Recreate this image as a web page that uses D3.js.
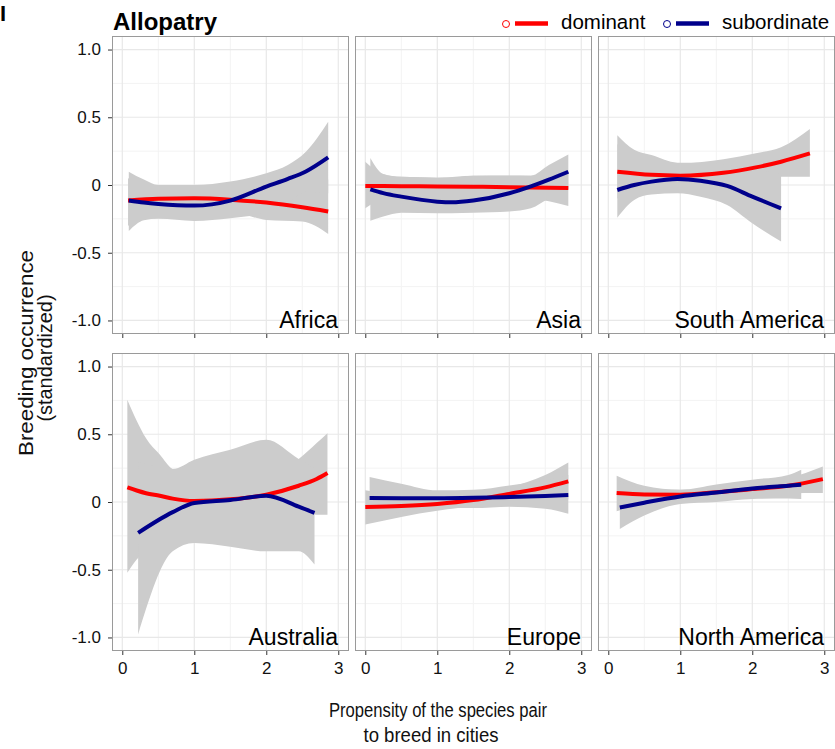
<!DOCTYPE html>
<html>
<head>
<meta charset="utf-8">
<script src="https://cdn.jsdelivr.net/npm/d3@7"></script>
<style>
  body { margin: 0; background: #fff; }
  svg { display: block; }
  text { font-family: "Liberation Sans", Arial, Helvetica, sans-serif; }
</style>
</head>
<body>
<svg id="chart" width="835" height="749"></svg>
<script>
// ---- Facets, series and axis ticks ----
const regions = ["Africa", "Asia", "South America", "Australia", "Europe", "North America"];
const seriesNames = ["dominant", "subordinate"];
const seriesColors = ["#ff0000", "#00008b"];
const xTicks = [0, 1, 2, 3];
const xMinorTicks = [0.5, 1.5, 2.5];
const yTicks = [-1, -0.5, 0, 0.5, 1];
const yMinorTicks = [-0.75, -0.25, 0.25, 0.75];
const yTickLabels = ["-1.0", "-0.5", "0", "0.5", "1.0"];

// ---- Smoothed fits with confidence bands (x, fit, lower, upper) ----
// Africa
const africaDomX   = [0.08, 0.5, 1.0, 1.5, 2.0, 2.5, 2.86];
const africaDomFit = [-0.115, -0.102, -0.098, -0.108, -0.13, -0.165, -0.196];
const africaDomLo  = [-0.30, -0.22, -0.20, -0.20, -0.258, -0.27, -0.361];
const africaDomHi  = [0.05, -0.01, -0.01, -0.01, 0.0, 0.02, 0.04];
const africaSubX   = [0.09, 0.3, 0.5, 1.0, 1.5, 2.0, 2.3, 2.55, 2.86];
const africaSubFit = [-0.115, -0.13, -0.14, -0.152, -0.115, -0.012, 0.045, 0.1, 0.204];
const africaSubLo  = [-0.339, -0.26, -0.25, -0.265, -0.246, -0.2, -0.13, -0.05, -0.06];
const africaSubHi  = [0.098, 0.04, 0.0, 0.0, 0.025, 0.086, 0.147, 0.245, 0.467];
// Asia
const asiaDomX   = [0.0, 0.25, 0.5, 1.0, 1.5, 2.0, 2.3, 2.55, 2.82];
const asiaDomFit = [-0.007, -0.008, -0.009, -0.011, -0.013, -0.016, -0.018, -0.02, -0.022];
const asiaDomLo  = [-0.172, -0.1, -0.08, -0.07, -0.07, -0.08, -0.1, -0.12, -0.155];
const asiaDomHi  = [0.172, 0.08, 0.06, 0.054, 0.069, 0.069, 0.069, 0.08, 0.1];
const asiaSubX   = [0.07, 0.25, 0.5, 1.0, 1.2, 1.5, 2.0, 2.3, 2.55, 2.82];
const asiaSubFit = [-0.032, -0.06, -0.086, -0.123, -0.128, -0.115, -0.061, -0.01, 0.04, 0.098];
const asiaSubLo  = [-0.263, -0.233, -0.204, -0.208, -0.208, -0.204, -0.196, -0.172, -0.1, -0.03];
const asiaSubHi  = [0.2, 0.081, 0.06, 0.054, 0.055, 0.069, 0.07, 0.069, 0.147, 0.226];
// South America
const samDomX   = [0.125, 0.6, 1.0, 1.6, 2.05, 2.4, 2.8];
const samDomFit = [0.098, 0.075, 0.069, 0.09, 0.13, 0.172, 0.233];
const samDomLo  = [-0.10, -0.04, -0.02, 0.0, 0.03, 0.06, 0.06];
const samDomHi  = [0.30, 0.2, 0.16, 0.19, 0.235, 0.278, 0.413];
const samSubX   = [0.125, 0.36, 0.6, 0.96, 1.28, 1.65, 2.0, 2.4];
const samSubFit = [-0.037, 0.0, 0.025, 0.044, 0.032, -0.007, -0.086, -0.172];
const samSubLo  = [-0.241, -0.11, -0.07, -0.061, -0.086, -0.147, -0.282, -0.418];
const samSubHi  = [0.368, 0.26, 0.221, 0.165, 0.165, 0.15, 0.12, 0.08];
// Australia
const ausDomX   = [0.07, 0.2, 0.33, 0.52, 0.7, 1.0, 1.5, 2.0, 2.45, 2.7, 2.85];
const ausDomFit = [0.108, 0.085, 0.065, 0.046, 0.025, 0.008, 0.02, 0.054, 0.12, 0.17, 0.214];
const ausDomLo  = [-0.523, -0.425, -0.36, -0.27, -0.2, -0.15, -0.14, -0.1, -0.08, -0.094, -0.094];
const ausDomHi  = [0.754, 0.6, 0.47, 0.35, 0.243, 0.2, 0.18, 0.2, 0.317, 0.435, 0.508];
const ausSubX   = [0.22, 0.7, 1.0, 1.5, 2.0, 2.45, 2.67];
const ausSubFit = [-0.228, -0.075, -0.007, 0.015, 0.046, -0.035, -0.081];
const ausSubLo  = [-0.978, -0.364, -0.302, -0.33, -0.364, -0.364, -0.462];
const ausSubHi  = [0.3, 0.243, 0.312, 0.385, 0.459, 0.317, 0.25];
// Europe
const eurDomX   = [0.0, 0.5, 1.0, 1.5, 2.0, 2.5, 2.82];
const eurDomFit = [-0.037, -0.03, -0.015, 0.014, 0.06, 0.108, 0.152];
const eurDomLo  = [-0.167, -0.11, -0.065, -0.03, 0.0, 0.03, 0.02];
const eurDomHi  = [0.086, 0.05, 0.04, 0.06, 0.11, 0.2, 0.292];
const eurSubX   = [0.06, 0.5, 1.0, 1.5, 2.0, 2.5, 2.82];
const eurSubFit = [0.029, 0.028, 0.028, 0.031, 0.037, 0.045, 0.052];
const eurSubLo  = [-0.14, -0.07, -0.045, -0.045, -0.035, -0.05, -0.086];
const eurSubHi  = [0.184, 0.135, 0.086, 0.09, 0.122, 0.16, 0.2];
// North America
const namDomX   = [0.116, 0.5, 1.0, 1.5, 2.0, 2.5, 2.98];
const namDomFit = [0.066, 0.056, 0.054, 0.072, 0.095, 0.12, 0.169];
const namDomLo  = [-0.069, -0.01, 0.015, 0.035, 0.055, 0.065, 0.066];
const namDomHi  = [0.194, 0.12, 0.09, 0.11, 0.135, 0.175, 0.262];
const namSubX   = [0.16, 0.5, 1.0, 1.5, 2.0, 2.5, 2.68];
const namSubFit = [-0.04, -0.005, 0.041, 0.07, 0.1, 0.12, 0.127];
const namSubLo  = [-0.199, -0.1, -0.015, 0.0, 0.022, 0.025, 0.022];
const namSubHi  = [0.15, 0.1, 0.091, 0.13, 0.165, 0.2, 0.238];

// Rows of points per facet and series, built from the arrays above
function rows(xs, fit, lo, hi) {
  return xs.map((x, i) => ({ x, fit: fit[i], lo: lo[i], hi: hi[i] }));
}
const facetSeries = {
  "Africa":        [rows(africaDomX, africaDomFit, africaDomLo, africaDomHi), rows(africaSubX, africaSubFit, africaSubLo, africaSubHi)],
  "Asia":          [rows(asiaDomX, asiaDomFit, asiaDomLo, asiaDomHi),         rows(asiaSubX, asiaSubFit, asiaSubLo, asiaSubHi)],
  "South America": [rows(samDomX, samDomFit, samDomLo, samDomHi),             rows(samSubX, samSubFit, samSubLo, samSubHi)],
  "Australia":     [rows(ausDomX, ausDomFit, ausDomLo, ausDomHi),             rows(ausSubX, ausSubFit, ausSubLo, ausSubHi)],
  "Europe":        [rows(eurDomX, eurDomFit, eurDomLo, eurDomHi),             rows(eurSubX, eurSubFit, eurSubLo, eurSubHi)],
  "North America": [rows(namDomX, namDomFit, namDomLo, namDomHi),             rows(namSubX, namSubFit, namSubLo, namSubHi)]
};

// ---- Layout ----
const svg = d3.select("#chart");
const panelW = 237, panelH = 298;
const left0 = 112, top0 = 36, gapX = 6, gapY = 19;
const nCols = 3;

const x = d3.scaleLinear().domain([-0.143, 3.149]).range([0, panelW]);
const y = d3.scaleLinear().domain([-1.1, 1.1]).range([panelH, 0]);

const ribbonFill = "#cccccc";
const gridMajor = "#e8e8e8";
const gridMinor = "#f3f3f3";
const borderCol = "#9a9a9a";
const textCol = "#111111";

const area = d3.area().x(d => x(d.x)).y0(d => y(d.lo)).y1(d => y(d.hi)).curve(d3.curveMonotoneX);
const line = d3.line().x(d => x(d.x)).y(d => y(d.fit)).curve(d3.curveMonotoneX);

regions.forEach((region, i) => {
  const col = i % nCols, row = Math.floor(i / nCols);
  const px = left0 + col * (panelW + gapX);
  const py = top0 + row * (panelH + gapY);
  const g = svg.append("g").attr("transform", `translate(${px},${py})`);

  const clipId = "clip" + i;
  g.append("clipPath").attr("id", clipId)
    .append("rect").attr("width", panelW).attr("height", panelH);

  // grid
  const grid = g.append("g");
  grid.selectAll(".vmin").data(xMinorTicks).join("line")
    .attr("x1", d => x(d)).attr("x2", d => x(d)).attr("y1", 0).attr("y2", panelH)
    .attr("stroke", gridMinor).attr("stroke-width", 1);
  grid.selectAll(".hmin").data(yMinorTicks).join("line")
    .attr("y1", d => y(d)).attr("y2", d => y(d)).attr("x1", 0).attr("x2", panelW)
    .attr("stroke", gridMinor).attr("stroke-width", 1);
  grid.selectAll(".vmaj").data(xTicks).join("line")
    .attr("x1", d => x(d)).attr("x2", d => x(d)).attr("y1", 0).attr("y2", panelH)
    .attr("stroke", gridMajor).attr("stroke-width", 1.2);
  grid.selectAll(".hmaj").data(yTicks).join("line")
    .attr("y1", d => y(d)).attr("y2", d => y(d)).attr("x1", 0).attr("x2", panelW)
    .attr("stroke", gridMajor).attr("stroke-width", 1.2);

  const plot = g.append("g").attr("clip-path", `url(#${clipId})`);
  const series = facetSeries[region];
  series.forEach(s => {
    plot.append("path").datum(s).attr("d", area).attr("fill", ribbonFill);
  });
  series.forEach((s, k) => {
    plot.append("path").datum(s).attr("d", line)
      .attr("fill", "none").attr("stroke", seriesColors[k])
      .attr("stroke-width", 4).attr("stroke-linecap", "butt");
  });

  // facet label
  g.append("text").attr("x", panelW - 11).attr("y", panelH - 6.5)
    .attr("text-anchor", "end").attr("font-size", 23).attr("fill", "#000")
    .text(region);

  // panel border
  g.append("rect").attr("x", 0.5).attr("y", 0.5)
    .attr("width", panelW - 1).attr("height", panelH - 1)
    .attr("fill", "none").attr("stroke", borderCol).attr("stroke-width", 1);

  // x axis (labels only on bottom row)
  const xAxis = d3.axisBottom(x).tickValues(xTicks).tickSize(4).tickPadding(7)
    .tickFormat(row === 1 ? d3.format("d") : () => "");
  const xa = g.append("g").attr("transform", `translate(0,${panelH})`).call(xAxis);
  xa.select(".domain").remove();
  xa.selectAll(".tick line").attr("stroke", "#333");
  xa.selectAll(".tick text").attr("font-size", 17).attr("fill", textCol)
    .attr("font-family", "\"Liberation Sans\", Arial, sans-serif");

  // y axis on first column
  if (col === 0) {
    const yAxis = d3.axisLeft(y).tickValues(yTicks).tickSize(4).tickPadding(7)
      .tickFormat((d, j) => yTickLabels[j]);
    const ya = g.append("g").call(yAxis);
    ya.select(".domain").remove();
    ya.selectAll(".tick line").attr("stroke", "#333");
    ya.selectAll(".tick text").attr("font-size", 17).attr("fill", textCol)
      .attr("font-family", "\"Liberation Sans\", Arial, sans-serif");
  }
});

// ---- Titles ----
svg.append("text").attr("x", 0).attr("y", 21)
  .attr("font-size", 22).attr("font-weight", "bold").attr("fill", "#000").text("I");

svg.append("text").attr("x", 113).attr("y", 30)
  .attr("font-size", 24).attr("font-weight", "bold").attr("fill", "#000").text("Allopatry");

// y axis title (two lines)
svg.append("text").attr("transform", "translate(33,353) rotate(-90)")
  .attr("text-anchor", "middle").attr("font-size", 20).attr("fill", textCol)
  .attr("textLength", 206).attr("lengthAdjust", "spacingAndGlyphs")
  .text("Breeding occurrence");
svg.append("text").attr("transform", "translate(52,358) rotate(-90)")
  .attr("text-anchor", "middle").attr("font-size", 20).attr("fill", textCol)
  .attr("textLength", 127).attr("lengthAdjust", "spacingAndGlyphs")
  .text("(standardized)");

// x axis title (two lines)
svg.append("text").attr("x", 438).attr("y", 717)
  .attr("text-anchor", "middle").attr("font-size", 19.5).attr("fill", textCol)
  .attr("textLength", 218).attr("lengthAdjust", "spacingAndGlyphs")
  .text("Propensity of the species pair");
svg.append("text").attr("x", 431).attr("y", 742)
  .attr("text-anchor", "middle").attr("font-size", 19.5).attr("fill", textCol)
  .attr("textLength", 135).attr("lengthAdjust", "spacingAndGlyphs")
  .text("to breed in cities");

// ---- Legend ----
const legendX = [506, 667];
seriesNames.forEach((name, k) => {
  const lx = legendX[k];
  const lg = svg.append("g");
  lg.append("circle").attr("cx", lx).attr("cy", 24).attr("r", 3.5)
    .attr("fill", "none").attr("stroke", seriesColors[k]).attr("stroke-width", 1);
  lg.append("line").attr("x1", lx + 9).attr("x2", lx + 42).attr("y1", 23.5).attr("y2", 23.5)
    .attr("stroke", seriesColors[k]).attr("stroke-width", 4.5);
  lg.append("text").attr("x", lx + 55).attr("y", 29)
    .attr("font-size", 20.5).attr("fill", "#000").text(name);
});
</script>
</body>
</html>
